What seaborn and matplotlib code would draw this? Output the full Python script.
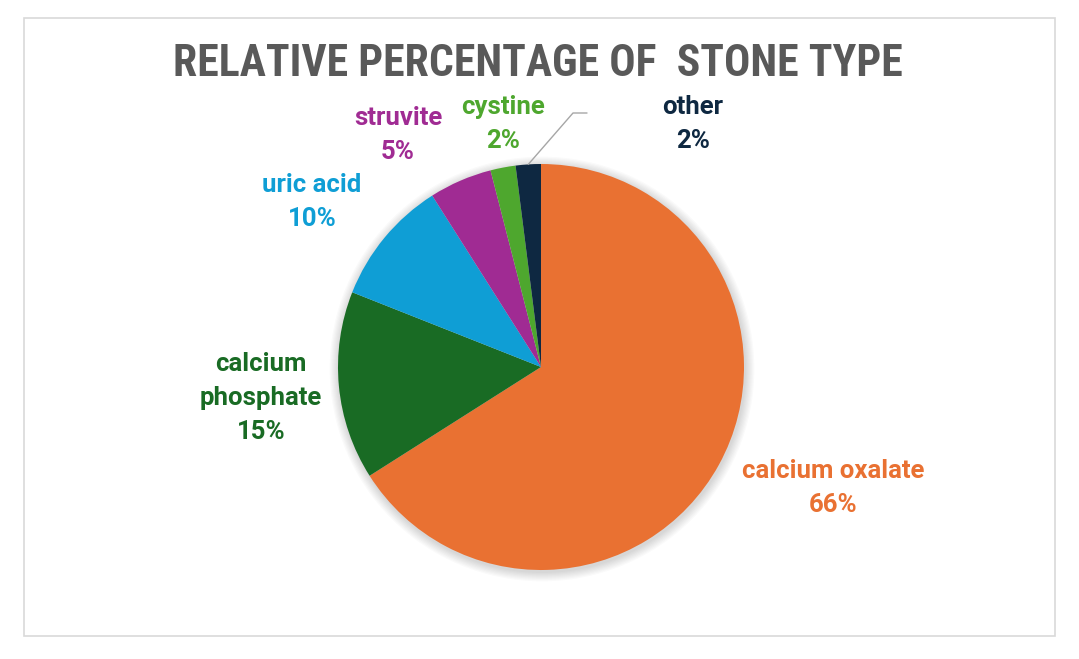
import matplotlib
matplotlib.use("Agg")
import matplotlib.pyplot as plt
import seaborn as sns
import numpy as np
from matplotlib.patches import Rectangle, Circle

categories = ["calcium oxalate", "calcium phosphate", "uric acid", "struvite", "cystine", "other"]
label_text = ["calcium oxalate", "calcium\nphosphate", "uric acid", "struvite", "cystine", "other"]
values = [66, 15, 10, 5, 2, 2]
colors = ["#E97132", "#196B24", "#0F9ED5", "#A02B93", "#4EA72E", "#0E2841"]
title = "RELATIVE PERCENTAGE OF  STONE TYPE"

sns.set_theme(style="white")
plt.rcParams["font.family"] = ["Roboto", "DejaVu Sans"]

W, H = 1079, 659
fig = plt.figure(figsize=(W / 100, H / 100), dpi=100)
ax = fig.add_axes([0, 0, 1, 1])
ax.set_xlim(0, W)
ax.set_ylim(0, H)
ax.set_aspect("equal")
ax.axis("off")

def Y(py):
    return H - py

# chart border
ax.add_patch(Rectangle((24, Y(636)), 1031, 618, fill=False, edgecolor="#D9D9D9", lw=1.2))

cx, cy, r = 541, Y(367), 203
# soft shadow
for i in range(8):
    ax.add_patch(Circle((cx + 1, cy - 2), r + 1 + i * 1.2, color="black", alpha=0.018, lw=0, zorder=1))

wedges, _ = ax.pie(values, colors=colors, startangle=90, counterclock=False,
                   center=(cx, cy), radius=r, wedgeprops=dict(linewidth=0, zorder=2))
for w in wedges:
    w.set_zorder(2)
ax.set_xlim(0, W)
ax.set_ylim(0, H)

# labels (text center positions in pixels)
label_pos = [(833, 488), (261, 398), (312, 202), (398, 135), (503, 124), (693, 124)]
for lab, v, c, (px, py) in zip(label_text, values, colors, label_pos):
    ax.text(px, Y(py), f"{lab}\n{v}%", ha="center", va="center", color=c,
            fontsize=18.5, fontweight="bold", linespacing=1.53, zorder=5)

# leader line for 'other'
ang = np.deg2rad(90 - 360 * (sum(values) - values[-1] / 2) / sum(values))
x0, y0 = cx + r * np.cos(ang), cy + r * np.sin(ang)
ax.plot([x0, 573, 587], [y0, Y(113), Y(113)], color="#A6A6A6", lw=1, zorder=4)

ax.text(538, Y(64), title, ha="center", va="center", color="#595959",
        fontsize=31.5, fontweight="bold", family=["Liberation Sans Narrow", "Roboto Condensed", "Roboto"])

fig.savefig("out.png", dpi=100, facecolor="white")
